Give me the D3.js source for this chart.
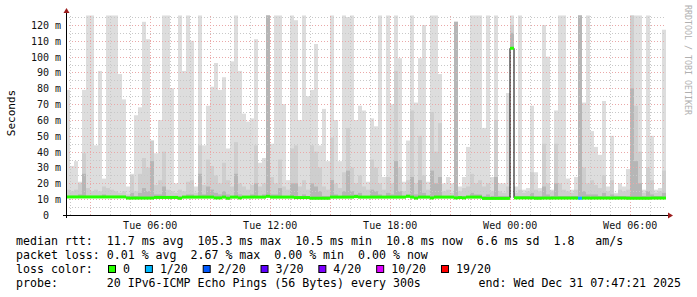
<!DOCTYPE html>
<html>
<head>
<meta charset="utf-8">
<title>SmokePing latency</title>
<script src="https://d3js.org/d3.v7.min.js"></script>
<style>
	body { margin:0; background:#fff; }
	svg text { font-family:"DejaVu Sans Mono", monospace; white-space:pre; }
</style>
</head>
<body>
<svg id="chart" width="697" height="297"></svg>
<script type="text/javascript">

	// 12 minute buckets, Tue 01:47:21 -> Wed 07:47:21 (UTC)
	var startTime = Date.UTC(2025, 11, 30, 1, 47, 21);
	var endTime = Date.UTC(2025, 11, 31, 7, 47, 21);
	var stepMs = 12 * 60 * 1000;

	// top of the light smoke (outer pings), ms
	var smokeMax = [
		79,31,34,21,79,126,126,44,91,23,
		126,126,126,89,73,18,26,63,68,122,
		111,47,39,60,126,126,80,20,126,91,
		126,110,18,126,44,69,81,96,79,87,
		42,97,126,91,64,59,61,111,33,36,
		126,45,126,126,70,22,126,123,60,126,
		75,79,108,44,67,34,126,60,34,126,
		125,126,60,69,66,21,61,56,126,24,
		126,70,126,99,21,47,126,71,99,120,
		21,126,126,89,20,24,20,122,18,24,
		43,126,126,126,55,126,24,126,20,20,
		77,126,18,126,16,17,69,27,17,120,
		100,16,66,126,126,23,16,24,126,71,
		126,53,43,38,72,18,50,14,20,18,
		29,126,126,126,16,126,50,16,17,117
	];
	// medium smoke
	var smokeMid = [
		16,15,16,20,39,17,15,16,15,18,
		17,16,15,14,15,13,25,15,26,36,
		30,47,19,22,40,16,15,14,16,15,
		21,22,14,44,19,35,31,25,20,33,
		22,18,46,20,18,16,19,44,18,20,
		126,24,20,35,18,16,42,44,18,22,
		16,44,40,30,18,16,49,20,17,27,
		55,30,20,25,18,16,35,30,20,16,
		24,20,91,30,15,22,66,20,50,25,
		16,65,40,58,15,16,14,122,15,17,
		18,26,20,22,18,20,15,60,15,14,
		18,120,14,16,14,15,27,16,15,45,
		20,15,45,20,16,15,14,16,126,30,
		20,22,19,17,25,15,22,13,16,15,
		16,126,69,40,14,30,22,14,15,28
	];
	// dark smoke close to the median
	var smokeLow = [
		12,12,12,13,26,12,12,12,12,13,
		12,12,12,12,12,12,14,12,14,17,
		15,34,13,13,18,12,12,12,12,12,
		13,13,12,26,13,18,16,14,13,15,
		13,12,26,13,12,12,13,20,12,13,
		126,13,13,17,12,12,20,20,12,13,
		12,20,18,15,12,12,22,13,12,15,
		28,15,13,14,12,12,16,15,13,12,
		14,13,34,15,12,13,24,13,22,14,
		12,28,20,24,12,12,12,122,12,12,
		12,14,13,13,12,13,12,24,12,12,
		12,115,12,12,12,12,14,12,12,18,
		13,12,20,12,12,12,12,12,126,15,
		13,13,13,12,14,12,13,12,12,12,
		12,80,34,20,12,15,13,12,12,14
	];
	// median rtt, ms
	var medianRtt = [
		11.4,11.4,11.4,11.4,11.4,11.4,11.4,11.4,11.4,11.4,
		11.4,11.4,11.4,11.4,11.4,10.7,10.7,10.7,10.7,10.7,
		10.7,10.7,11.1,11.1,11.1,11.1,11.1,11.1,10.6,11.3,
		11.3,11.3,11.3,11.3,11.3,11.3,11.3,10.8,10.8,11.3,
		10.6,11.3,11.3,10.8,11.3,11.3,11.3,11.3,11.3,11.3,
		11.8,11.3,11.3,11.3,11.3,11.3,11.3,11.0,11.0,11.0,
		11.0,10.6,10.6,10.6,10.6,10.6,11.3,11.3,11.3,11.3,
		11.3,11.3,11.6,11.3,11.3,11.3,11.3,11.3,11.3,11.3,
		11.3,11.3,11.3,11.3,11.3,11.8,11.3,10.7,11.3,11.3,
		11.3,10.8,11.3,11.3,11.3,11.3,11.3,10.8,11.0,10.8,
		11.3,11.3,11.3,11.3,10.5,10.5,10.5,10.5,10.5,10.5,
		10.5,105.3,10.8,10.8,10.8,10.8,10.8,10.6,10.6,10.7,
		10.7,10.7,10.7,10.7,10.7,10.7,10.7,10.7,10.6,10.7,
		10.7,10.7,10.7,10.7,10.7,10.7,10.7,10.7,10.7,10.7,
		10.6,10.6,10.6,10.6,10.6,10.6,10.7,10.7,10.7,10.7
	];
	// lost pings per bucket (of 20)
	var lostPings = [
		0,0,0,0,0,0,0,0,0,0, 0,0,0,0,0,0,0,0,0,0, 0,0,0,0,0,0,0,0,0,0,
		0,0,0,0,0,0,0,0,0,0, 0,0,0,0,0,0,0,0,0,0, 0,0,0,0,0,0,0,0,0,0,
		0,0,0,0,0,0,0,0,0,0, 0,0,0,0,0,0,0,0,0,0, 0,0,0,0,0,0,0,0,0,0,
		0,0,0,0,0,0,0,0,0,0, 0,0,0,0,0,0,0,0,0,0, 0,0,0,0,0,0,0,0,0,0,
		0,0,0,0,0,0,0,0,1,0, 0,0,0,0,0,0,0,0,0,0, 0,0,0,0,0,0,0,0,0,0
	];

	var lossLevels = [0, 1, 2, 3, 4, 10, 19];
	var lossLabels = ["0", "1/20", "2/20", "3/20", "4/20", "10/20", "19/20"];
	var lossColors = ["#26ff00", "#00b8ff", "#0059ff", "#5e00ff", "#7e00ff", "#dd00ff", "#ff0000"];

	var legendLines = [
		"median rtt:  11.7 ms avg  105.3 ms max  10.5 ms min  10.8 ms now  6.6 ms sd  1.8   am/s",
		"packet loss: 0.01 % avg  2.67 % max  0.00 % min  0.00 % now"
	];
	var probeText = "probe:       20 IPv6-ICMP Echo Pings (56 Bytes) every 300s";
	var endText = "end: Wed Dec 31 07:47:21 2025";

	var svg = d3.select("#chart");

	var x = d3.scaleUtc().domain([startTime, endTime]).range([66, 666]);
	var y = d3.scaleLinear().domain([0, 126.3]).range([215, 15]);

	var cols = smokeMax.map(function(v, i) {
		return {
			t0: startTime + i * stepMs,
			t1: startTime + (i + 1) * stepMs,
			max: v, mid: smokeMid[i], low: smokeLow[i],
			med: medianRtt[i], loss: lostPings[i]
		};
	});

	// smoke
	function smoke(key, color) {
		svg.append("g").selectAll("rect")
			.data(cols)
			.enter()
			.append("rect")
			.attr("x", function(d){ return x(d.t0); })
			.attr("width", function(d){ return x(d.t1) - x(d.t0); })
			.attr("y", function(d){ return y(Math.max(d[key], d.med)); })
			.attr("height", function(d){ return y(d.med - 0.6) - y(Math.max(d[key], d.med)); })
			.attr("fill", color);
	}
	smoke("max", "#dddddd");
	smoke("mid", "#cecece");
	smoke("low", "#b6b6b6");

	// grid
	var grid = svg.append("g");
	var hours = d3.utcHour.range(startTime, endTime);
	grid.selectAll("line.v")
		.data(hours)
		.enter()
		.append("line")
		.attr("x1", function(d){ return Math.round(x(d)) + 0.5; })
		.attr("x2", function(d){ return Math.round(x(d)) + 0.5; })
		.attr("y1", 215).attr("y2", 14)
		.attr("stroke", function(d){ return d.getUTCHours() % 3 == 0 ? "#eaa8a8" : "#c8c8c8"; })
		.attr("stroke-dasharray", "1,2");

	var yGrid = d3.range(5, 126, 5);
	grid.selectAll("line.h")
		.data(yGrid)
		.enter()
		.append("line")
		.attr("x1", 66).attr("x2", 666)
		.attr("y1", function(d){ return Math.round(y(d)) + 0.5; })
		.attr("y2", function(d){ return Math.round(y(d)) + 0.5; })
		.attr("stroke", function(d){ return d % 10 == 0 ? "#eaa8a8" : "#c8c8c8"; })
		.attr("stroke-dasharray", "1,2");

	// median: thin black step line then loss coloured segments
	var medLine = d3.line()
		.x(function(d){ return x(d[0]); })
		.y(function(d){ return y(d[1]); })
		.curve(d3.curveStepAfter);
	var medPts = cols.map(function(d){ return [d.t0, d.med]; });
	medPts.push([endTime, medianRtt[medianRtt.length - 1]]);
	svg.append("path")
		.attr("d", medLine(medPts))
		.attr("fill", "none")
		.attr("stroke", "#000")
		.attr("stroke-width", 1);

	function lossColor(n) {
		var c = lossColors[0];
		lossLevels.forEach(function(l, i){ if (n >= l) c = lossColors[i]; });
		return c;
	}
	svg.append("g").selectAll("line")
		.data(cols)
		.enter()
		.append("line")
		.attr("x1", function(d){ return x(d.t0); })
		.attr("x2", function(d){ return x(d.t1); })
		.attr("y1", function(d){ return y(d.med); })
		.attr("y2", function(d){ return y(d.med); })
		.attr("stroke", function(d){ return lossColor(d.loss); })
		.attr("stroke-width", 3);

	// axes
	svg.append("line").attr("x1", 63).attr("x2", 669).attr("y1", 215.5).attr("y2", 215.5)
		.attr("stroke", "#000");
	svg.append("line").attr("x1", 66.5).attr("x2", 66.5).attr("y1", 218).attr("y2", 12)
		.attr("stroke", "#000");
	svg.append("path").attr("d", "M63.5,13L69.5,13L66.5,8Z").attr("fill", "#9b1c1c");
	svg.append("path").attr("d", "M668,212.5L668,218.5L673,215.5Z").attr("fill", "#9b1c1c");

	// y tick labels
	var yTicks = d3.range(0, 121, 10);
	svg.append("g").selectAll("text")
		.data(yTicks)
		.enter()
		.append("text")
		.attr("x", 61)
		.attr("y", function(d){ return y(d) + 4; })
		.attr("text-anchor", "end")
		.attr("font-size", "10px")
		.attr("fill", "#111")
		.text(function(d){ return d == 0 ? "0  " : d + " m"; });

	// x tick labels
	var fmt = d3.utcFormat("%a %H:%M");
	var xTicks = d3.utcHour.every(6).range(startTime, endTime);
	svg.append("g").selectAll("text")
		.data(xTicks)
		.enter()
		.append("text")
		.attr("x", function(d){ return x(d); })
		.attr("y", 228.5)
		.attr("text-anchor", "middle")
		.attr("font-size", "10px")
		.attr("fill", "#111")
		.text(fmt);

	svg.append("text")
		.attr("transform", "translate(15,113) rotate(-90)")
		.attr("text-anchor", "middle")
		.attr("font-size", "11px")
		.text("Seconds");

	svg.append("text")
		.attr("transform", "translate(685,5) rotate(90)")
		.attr("font-size", "8.3px")
		.attr("fill", "#b0b0b0")
		.text("RRDTOOL / TOBI OETIKER");

	// legend
	var legend = svg.append("g").attr("font-size", "11.6px").attr("fill", "#000");
	legendLines.forEach(function(s, i) {
		legend.append("text").attr("x", 16).attr("y", 245 + i * 14).text(s);
	});
	legend.append("text").attr("x", 16).attr("y", 273).text("loss color:");
	var lx = 108.5;
	lossLabels.forEach(function(lab, i) {
		legend.append("rect")
			.attr("x", lx).attr("y", 265.5)
			.attr("width", 7).attr("height", 7)
			.attr("fill", lossColors[i])
			.attr("stroke", "#000");
		var t = legend.append("text").attr("x", lx + 14.5).attr("y", 273).text(lab);
		lx = lx + 14.5 + t.node().getComputedTextLength() + 15.4;
	});
	legend.append("text").attr("x", 16).attr("y", 287).text(probeText);
	legend.append("text").attr("x", 681).attr("y", 287).attr("text-anchor", "end").text(endText);

</script>
</body>
</html>
